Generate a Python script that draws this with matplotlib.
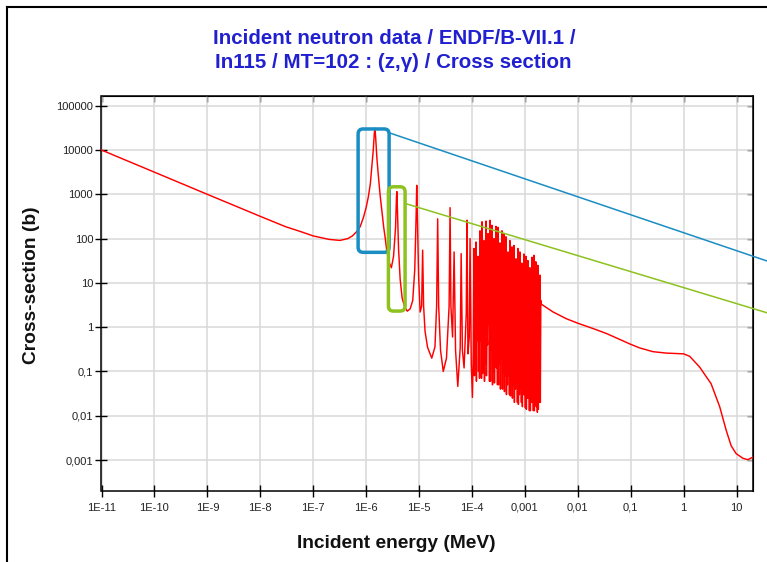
import matplotlib
matplotlib.use("Agg")
import matplotlib.pyplot as plt
from matplotlib.patches import FancyBboxPatch
from matplotlib.lines import Line2D
from matplotlib.transforms import IdentityTransform

plt.rcParams['font.family'] = ['Liberation Sans', 'DejaVu Sans']

# ---------------- data ----------------
# thermal + resolved resonances, energy in MeV, cross-section in barns
low_energy_mev = [1e-11, 1e-10, 1e-9, 1e-8, 3e-8, 5.7e-8, 1e-7, 2e-7, 3.2e-7, 4.5e-7,
                  5.5e-7, 6.5e-7, 7.7e-7, 8.9e-7, 1.0e-6, 1.1e-6, 1.2e-6, 1.28e-6, 1.36e-6,
                  1.43e-6, 1.47e-6, 1.52e-6, 1.6e-6, 1.71e-6, 1.85e-6, 1.98e-6, 2.15e-6,
                  2.28e-6, 2.45e-6, 2.7e-6, 3.0e-6, 3.3e-6, 3.6e-6, 3.75e-6, 3.82e-6, 3.9e-6,
                  4.1e-6, 4.4e-6, 4.8e-6, 5.4e-6, 6.0e-6, 6.8e-6, 7.6e-6, 8.3e-6, 8.8e-6,
                  9.05e-6, 9.3e-6, 9.8e-6, 1.05e-5, 1.12e-5, 1.17e-5, 1.22e-5, 1.3e-5,
                  1.45e-5, 1.74e-5, 2.0e-5, 2.15e-5, 2.25e-5, 2.35e-5, 2.55e-5, 2.87e-5,
                  3.3e-5, 3.7e-5, 3.86e-5, 4.0e-5, 4.3e-5, 4.6e-5, 4.9e-5, 5.4e-5, 6.0e-5,
                  6.25e-5, 6.6e-5, 7.1e-5, 7.8e-5, 8.05e-5, 8.4e-5, 8.9e-5, 9.2e-5, 9.7e-5,
                  1.02e-4, 1.06e-4]
low_xs_b = [10000, 3160, 1000, 318, 186, 145, 115, 96, 91, 100,
            115, 140, 185, 300, 500, 870, 1700, 4000, 9500,
            24000, 31000, 18000, 6500, 2500, 900, 430, 180,
            110, 55, 30, 22, 40, 180, 900, 1150, 500,
            60, 12, 4.5, 2.8, 2.3, 2.6, 4, 20, 300,
            1600, 300, 15, 2.2, 3, 55, 3, 0.8,
            0.35, 0.2, 0.36, 3, 280, 3, 0.3, 0.1,
            0.2, 3, 500, 3, 0.6, 50, 0.3, 0.046, 0.35,
            46, 0.3, 0.12, 2, 260, 0.25, 0.6, 100, 0.15,
            0.026, 0.3]

# dense resonance region, energy in eV
dense_energy_ev = [109, 111.5, 114, 116.5, 119, 121.5, 124, 127, 130, 133, 136, 139, 142,
                   145, 148, 151.5, 155, 158.5, 162, 165.5, 169, 172.5, 176, 180, 184, 188,
                   192, 196.5, 201, 205.5, 210, 214.5, 219, 224, 229, 234, 239, 244.5, 250,
                   255.5, 261, 266.5, 272, 278, 284, 290.5, 297, 303.5, 310, 317, 324, 331,
                   338, 345.5, 353, 361, 369, 377, 385, 393.5, 402, 411, 420, 429.5, 439,
                   448.5, 458, 468, 478, 489, 500, 511, 522, 533.5, 545, 557, 569, 581.5,
                   594, 607.5, 621, 634.5, 648, 662.5, 677, 692, 707, 722.5, 738, 754.5,
                   771, 788, 805, 823, 841, 859.5, 878, 897.5, 917, 937.5, 958, 979, 1000,
                   1022, 1044, 1067.5, 1091, 1115, 1139, 1164.5, 1190, 1216.5, 1243,
                   1270.5, 1298, 1326.5, 1355, 1385, 1415, 1446.5, 1478, 1511, 1544, 1578,
                   1612, 1648, 1684, 1721, 1758, 1797, 1836, 1877, 1918, 1959, 2000]
dense_xs_b = [60, 0.08, 2, 0.3,
              84, 0.06, 5, 0.5,
              40, 0.1, 1.5, 0.07,
              150, 0.5, 8, 0.07,
              240, 0.09, 3, 0.2,
              90, 0.06, 12, 0.15,
              250, 0.08, 1, 0.4,
              130, 1.2, 6, 0.06,
              260, 0.06, 2.5, 0.3,
              200, 0.05, 20, 0.1,
              100, 0.055, 1.5, 0.2,
              190, 0.12, 4, 0.05,
              180, 0.05, 9, 0.15,
              80, 0.04, 1, 0.2,
              150, 0.04, 3, 0.1,
              130, 0.035, 15, 0.08,
              110, 0.03, 2, 0.05,
              50, 0.08, 6, 0.03,
              90, 0.028, 1.2, 0.06,
              65, 0.025, 4, 0.05,
              70, 0.02, 10, 0.04,
              35, 0.06, 1, 0.02,
              60, 0.018, 3, 0.03,
              50, 0.04, 0.8, 0.02,
              28, 0.016, 5, 0.03,
              45, 0.03, 1.5, 0.015,
              40, 0.014, 2, 0.025,
              32, 0.025, 7, 0.013,
              22, 0.013, 1, 0.02,
              38, 0.02, 3, 0.013,
              42, 0.013, 1.2, 0.018,
              30, 0.016, 5, 0.012,
              25, 0.014, 2, 0.02,
              15, 0.02, 4]

# unresolved + fast region, energy in MeV
high_energy_mev = [2.05e-3, 3.42e-3, 6.1e-3, 1.0e-2, 1.95e-2, 3.48e-2, 6.2e-2, 0.1, 0.148,
                   0.263, 0.47, 1.0, 1.3, 2.0, 3.3, 4.8, 6.4, 7.9, 9.8, 13.1, 16.3, 20.0]
high_xs_b = [3.3, 2.2, 1.55, 1.23, 0.93, 0.72, 0.53, 0.41, 0.34,
             0.28, 0.26, 0.25, 0.22, 0.126, 0.053, 0.016, 0.0046, 0.0021, 0.0014,
             0.0011, 0.00102, 0.00115]

x_ticks = [1e-11, 1e-10, 1e-9, 1e-8, 1e-7, 1e-6, 1e-5, 1e-4, 1e-3, 1e-2, 1e-1, 1, 10]
x_tick_labels = ['1E-11', '1E-10', '1E-9', '1E-8', '1E-7', '1E-6', '1E-5', '1E-4',
                 '0,001', '0,01', '0,1', '1', '10']
y_ticks = [1e-3, 1e-2, 1e-1, 1, 10, 100, 1000, 10000, 100000]
y_tick_labels = ['0,001', '0,01', '0,1', '1', '10', '100', '1000', '10000', '100000']

title_lines = ['Incident neutron data / ENDF/B-VII.1 /',
               'In115 / MT=102 : (z,\u03b3) / Cross section']
x_label = 'Incident energy (MeV)'
y_label = 'Cross-section (b)'

# highlight boxes (energy range MeV, cross-section range b) and leader lines
blue_box = ((7.06e-7, 49), (2.72e-6, 2.99e4))
green_box = ((2.64e-6, 2.31), (5.45e-6, 1480))
blue_leader = ([2.6e-6, 36.8], [2.5e4, 31.5])
green_leader = ([5.45e-6, 36.8], [622, 2.13])

# ---------------- figure ----------------
W, H = 767, 562
fig = plt.figure(figsize=(W / 100, H / 100), dpi=100)
fig.patch.set_facecolor('white')

L, R, T, B = 101.5, 752.5, 96, 491
ax = fig.add_axes([L / W, 1 - B / H, (R - L) / W, (B - T) / H])

dense_pairs = list(zip(dense_energy_ev, dense_xs_b))
energy = (low_energy_mev + [e * 1e-6 for e, _ in dense_pairs] + high_energy_mev)
xs = low_xs_b + [s for _, s in dense_pairs] + high_xs_b

ax.plot(energy, xs, color='#ff0000', lw=1.05, zorder=3)

ax.set_xscale('log')
ax.set_yscale('log')
ax.set_xlim(1e-11, 20)
ax.set_ylim(2.0e-4, 1.66e5)

ax.set_xticks(x_ticks)
ax.set_xticklabels(x_tick_labels)
ax.set_yticks(y_ticks)
ax.set_yticklabels(y_tick_labels)
ax.minorticks_off()

ax.grid(True, which='major', color='#d9d9d9', lw=1.1)
ax.set_axisbelow(True)

for s in ax.spines.values():
    s.set_color('black')
    s.set_linewidth(1.1)

ax.tick_params(axis='both', which='major', direction='inout', length=9, width=1.0,
               labelsize=8, labelcolor='#222222', color='black')
ax.tick_params(axis='x', pad=4)
ax.tick_params(axis='y', pad=1.5)

secx = ax.secondary_xaxis('top')
secx.set_xticks(x_ticks)
secx.set_xticklabels([''] * len(x_ticks))
secx.tick_params(direction='in', length=4, width=1.0)
secx.minorticks_off()
secy = ax.secondary_yaxis('right')
secy.set_yticks(y_ticks)
secy.set_yticklabels([''] * len(y_ticks))
secy.tick_params(direction='in', length=4, width=1.0)
secy.minorticks_off()

# leader lines
ax.plot(blue_leader[0], blue_leader[1], color='#1a8dc3', lw=1.1, clip_on=False, zorder=4)
ax.plot(green_leader[0], green_leader[1], color='#8dc21f', lw=1.1, clip_on=False, zorder=4)

# boxes in display coordinates
for box, col in [(blue_box, '#1a8dc3'), (green_box, '#8dc21f')]:
    (x0, y0), (x1, y1) = ax.transData.transform([box[0], box[1]])
    p = FancyBboxPatch((x0, y0), x1 - x0, y1 - y0,
                       boxstyle='round,pad=0,rounding_size=5',
                       transform=IdentityTransform(), fill=False,
                       ec=col, lw=2.5, zorder=5)
    fig.add_artist(p)

# titles and labels
fig.text(394 / W, 1 - 38 / H, title_lines[0], ha='center', va='center',
         fontsize=14.8, fontweight='bold', color='#2020d0')
fig.text(393 / W, 1 - 63 / H, title_lines[1], ha='center', va='center',
         fontsize=14.8, fontweight='bold', color='#2020d0')
fig.text(396 / W, 1 - 544 / H, x_label, ha='center', va='center',
         fontsize=13.8, fontweight='bold', color='#111111')
fig.text(32 / W, 1 - 285 / H, y_label, ha='center', va='center', rotation=90,
         fontsize=13.8, fontweight='bold', color='#111111')

# outer frame (partially visible in the crop)
fig.add_artist(Line2D([7, 7], [0, H - 7], transform=IdentityTransform(),
                      color='black', lw=1.5))
fig.add_artist(Line2D([7, W], [H - 7, H - 7], transform=IdentityTransform(),
                      color='black', lw=1.5))

fig.savefig('out.png', dpi=100)
